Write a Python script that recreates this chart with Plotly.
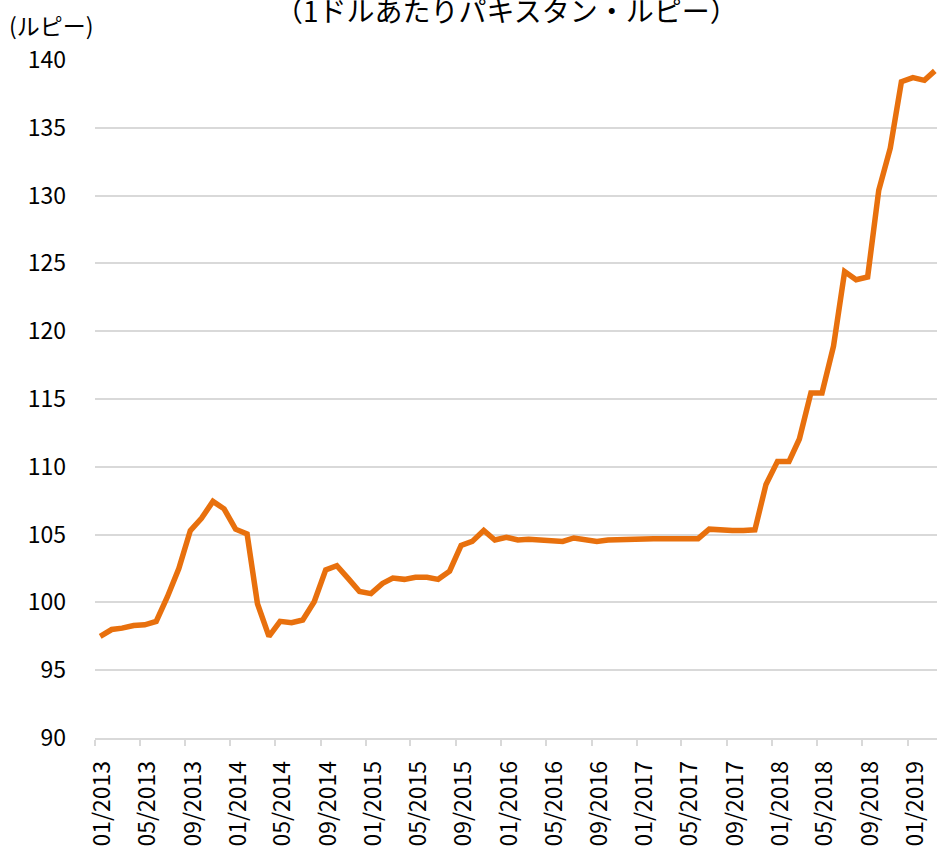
import plotly.graph_objects as go
import pandas as pd

# PKR per USD, monthly averages (Jan 2013 - Mar 2019), plotted mid-month
months = pd.date_range("2013-01-01", periods=75, freq="MS") + pd.Timedelta(days=14)
rate = [
    97.5, 98.0, 98.1, 98.3, 98.35, 98.6, 100.4, 102.5, 105.3, 106.2, 107.45, 106.9,
    105.4, 105.05, 99.9, 97.5, 98.6, 98.5, 98.7, 100.05, 102.4, 102.7, 101.75, 100.8,
    100.65, 101.4, 101.8, 101.7, 101.85, 101.85, 101.7, 102.3, 104.2, 104.5, 105.3, 104.6,
    104.8, 104.6, 104.65, 104.6, 104.6, 104.5, 104.75, 104.6, 104.5, 104.6, 104.65, 104.7,
    104.7, 104.7, 104.7, 104.7, 104.7, 104.7, 105.4, 105.3, 105.3, 105.3, 105.35, 108.7,
    110.4, 110.4, 112.05, 115.45, 115.45, 118.9, 124.4, 123.8, 124.0, 130.4, 133.5, 138.4,
    138.7, 138.5, 139.2,
]
y_ticks = [90, 95, 100, 105, 110, 115, 120, 125, 130, 135, 140]

title_text = "（1ドルあたりパキスタン・ルピー）"
unit_text = "(ルピー)"

JP = "Noto Sans CJK JP"
GRID = "#d9d9d9"

fig = go.Figure(
    go.Scatter(
        x=months,
        y=rate,
        mode="lines",
        line=dict(color="#E8700D", width=5.5),
        hoverinfo="x+y",
    )
)

fig.update_layout(
    width=937,
    height=847,
    margin=dict(l=95, r=0, t=60, b=106),
    paper_bgcolor="white",
    plot_bgcolor="white",
    showlegend=False,
    font=dict(family=JP, size=23, color="#000000"),
    annotations=[
        dict(
            text=title_text, xref="paper", yref="paper",
            x=(506 - 95) / 842, y=1, xanchor="center", yanchor="middle",
            yshift=50, showarrow=False, font=dict(family=JP, size=28, color="#000000"),
        ),
        dict(
            text=unit_text, xref="paper", yref="paper",
            x=(51 - 95) / 842, y=1, xanchor="center", yanchor="middle",
            yshift=35, showarrow=False, font=dict(family=JP, size=23, color="#000000"),
        ),
    ],
)

fig.update_xaxes(
    range=["2013-01-01", "2019-03-21"],
    tick0="2013-01-01",
    dtick="M4",
    tickformat="%m/%Y",
    tickangle=-90,
    ticks="outside",
    ticklen=6,
    tickcolor=GRID,
    tickwidth=1.5,
    ticklabelshift=8,
    ticklabelstandoff=6,
    showline=True,
    linecolor=GRID,
    linewidth=1.5,
    showgrid=False,
    zeroline=False,
    tickfont=dict(family=JP, size=23),
)

fig.update_yaxes(
    range=[90, 140],
    tickvals=y_ticks,
    showgrid=True,
    gridcolor=GRID,
    gridwidth=1.5,
    zeroline=False,
    showline=False,
    ticks="",
    ticklabelstandoff=28,
    tickfont=dict(family=JP, size=23),
)

fig.write_html("out.html")
